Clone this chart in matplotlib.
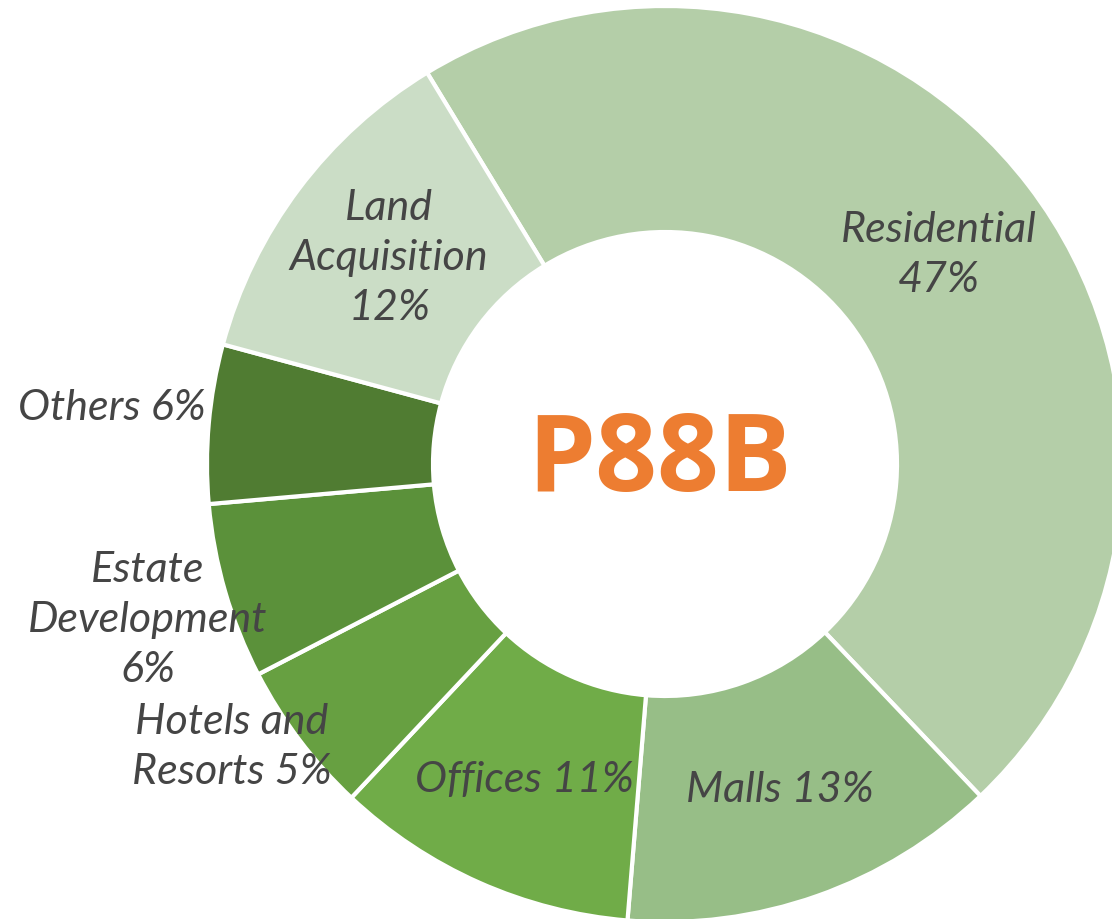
import numpy as np
import matplotlib
matplotlib.use('Agg')
import matplotlib.pyplot as plt

# segment data (clockwise from the Residential / Land Acquisition boundary)
segments = ['Residential', 'Malls', 'Offices', 'Hotels and Resorts',
            'Estate Development', 'Others', 'Land Acquisition']
shares = [46.6, 13.4, 10.7, 5.4, 6.2, 5.6, 12.1]
label_text = ['Residential\n47%', 'Malls 13%', 'Offices 11%', 'Hotels and\nResorts 5%',
              'Estate\nDevelopment\n6%', 'Others 6%', 'Land\nAcquisition\n12%']
colors = ['#b4cea8', '#97be87', '#70ac48', '#67a041', '#5b913a', '#507c32', '#cbddc6']
total_label = 'P88B'

W, H = 1112, 920
fig = plt.figure(figsize=(W / 100, H / 100), dpi=100)
ax = fig.add_axes([0, 0, 1, 1])

cx, cy = 665, H - 465
R = 458
ring = 226

wedges, _ = ax.pie(shares, colors=colors, startangle=121.3, counterclock=False,
                   center=(cx, cy), radius=R,
                   wedgeprops=dict(width=ring, edgecolor='white', linewidth=3))
ax.set_xlim(0, W)
ax.set_ylim(0, H)
ax.set_aspect('equal')
ax.axis('off')

# small segments have their labels pushed outside the ring
outside = {3: (232, H - 747), 4: (148, H - 620), 5: (112, H - 408)}

txt_kw = dict(fontsize=31, fontstyle='italic', color='#454545',
              family='Lato', ha='center', va='center', linespacing=1.38)
r_lab = R - ring / 2
for i, w in enumerate(wedges):
    if i in outside:
        x, y = outside[i]
    else:
        ang = np.deg2rad((w.theta1 + w.theta2) / 2)
        x = cx + r_lab * np.cos(ang)
        y = cy + r_lab * np.sin(ang)
    ax.text(x, y, label_text[i], **txt_kw)

ax.text(660, H - 463, total_label, fontsize=78, fontweight='bold', color='#ed7d31',
        family='Open Sans', ha='center', va='center')

fig.savefig('out.png', dpi=100)
